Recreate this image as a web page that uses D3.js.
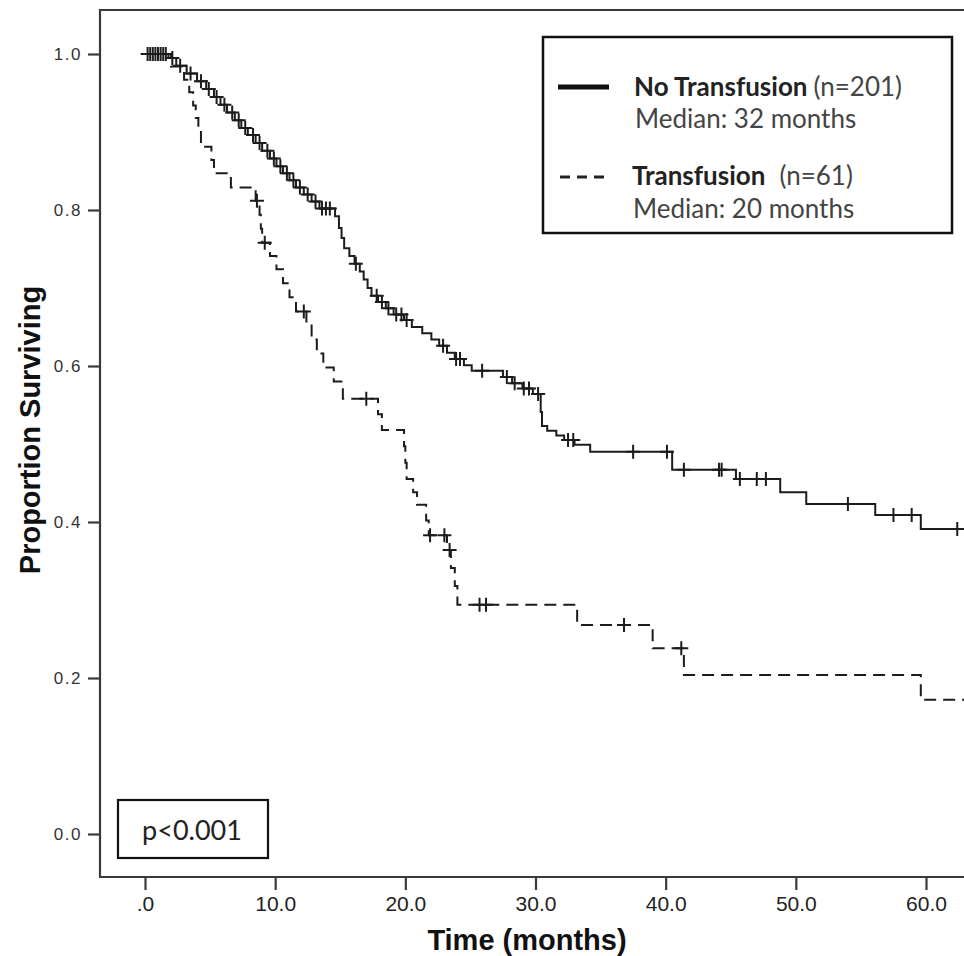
<!DOCTYPE html>
<html>
<head>
<meta charset="utf-8">
<script src="https://cdn.jsdelivr.net/npm/d3@7/dist/d3.min.js"></script>
<style>
  html, body { margin: 0; padding: 0; background: #fff; }
  svg { display: block; }
</style>
</head>
<body>
<svg id="chart" width="964" height="956"></svg>
<script>
// ---------------- DATA ----------------
const xTicks = [0, 10, 20, 30, 40, 50, 60];
const xTickLabels = [".0", "10.0", "20.0", "30.0", "40.0", "50.0", "60.0"];
const yTicks = [0, 0.2, 0.4, 0.6, 0.8, 1.0];
const yTickLabels = ["0.0", "0.2", "0.4", "0.6", "0.8", "1.0"];

// No Transfusion (n=201): step times (months) and survival after each step
const noTransTimes = [0, 1.8, 2.4, 3.2, 4.0, 4.7, 5.3, 5.8, 6.3, 6.9, 7.4, 7.9, 8.5, 9.0, 9.6, 10.1, 10.6, 11.1, 11.6, 12.2, 12.8, 13.4,
  14.6, 14.9, 15.1, 15.3, 15.7, 16.1, 16.5, 16.8, 17.1, 17.4, 17.9, 18.5, 19.1, 19.9, 20.5, 21.3, 22.0, 22.6, 23.2, 23.8, 24.5, 25.1,
  27.5, 28.2, 29.0, 29.8, 30.4, 30.5, 30.9, 31.6, 32.2, 33.0, 34.2, 40.5, 45.4, 48.8, 50.8, 56.1, 59.6];
const noTransSurv = [1.0, 0.995, 0.985, 0.975, 0.965, 0.955, 0.945, 0.935, 0.925, 0.915, 0.905, 0.896, 0.886, 0.876, 0.866, 0.856, 0.847, 0.838, 0.829, 0.820, 0.811, 0.802,
  0.792, 0.777, 0.764, 0.751, 0.741, 0.731, 0.721, 0.711, 0.700, 0.690, 0.682, 0.674, 0.666, 0.659, 0.650, 0.642, 0.634, 0.626, 0.617, 0.609, 0.601, 0.594,
  0.586, 0.578, 0.571, 0.564, 0.541, 0.523, 0.517, 0.511, 0.505, 0.499, 0.490, 0.467, 0.455, 0.438, 0.423, 0.409, 0.391];
const noTransCensored = [0.2, 0.4, 0.6, 0.8, 1.0, 1.2, 1.4, 1.6, 2.1, 2.7, 3.5, 4.3, 4.9, 5.5, 6.1, 6.7, 7.2, 7.7, 8.3, 8.8, 9.4, 9.9,
  10.4, 10.9, 11.4, 11.9, 12.5, 13.1, 13.6, 13.9, 14.2, 16.2, 17.8, 18.2, 18.7, 19.3, 19.7, 20.1, 22.9, 23.9, 24.2, 25.9,
  27.8, 28.4, 29.1, 29.5, 30.2, 32.5, 32.9, 37.5, 40.1, 41.4, 44.1, 44.3, 45.7, 47.0, 47.7, 54.0, 57.5, 58.9, 62.4];

// Transfusion (n=61)
const transTimes = [0, 2.0, 3.0, 3.4, 3.7, 3.9, 4.1, 4.3, 5.1, 5.3, 6.6, 8.5, 8.8, 8.9, 9.0, 9.6, 10.1, 10.6, 11.1, 11.6,
  12.4, 12.8, 13.2, 13.7, 14.5, 15.2, 17.9, 18.2, 19.9, 20.0, 20.1, 20.6, 20.9, 21.6, 21.8, 23.2, 23.5, 23.8, 24.0,
  33.2, 39.0, 41.4, 59.6];
const transSurv = [1.0, 0.984, 0.967, 0.951, 0.934, 0.918, 0.900, 0.881, 0.864, 0.847, 0.829, 0.812, 0.794, 0.776, 0.758, 0.741, 0.724, 0.706, 0.688, 0.670,
  0.652, 0.634, 0.616, 0.598, 0.580, 0.558, 0.538, 0.518, 0.497, 0.476, 0.455, 0.438, 0.422, 0.402, 0.383, 0.364, 0.341, 0.318, 0.294,
  0.268, 0.238, 0.204, 0.172];
const transCensored = [8.6, 9.2, 12.2, 17.0, 21.9, 23.0, 23.4, 25.7, 26.2, 36.8, 41.2];

const endTime = 63.5;

// ---------------- LAYOUT ----------------
const svg = d3.select("#chart");
const x = d3.scaleLinear().domain([0, 60]).range([145, 926]);
const y = d3.scaleLinear().domain([0, 1]).range([834, 54]);
const frameLeft = 100, frameTop = 10, frameBottom = 877, frameRight = 964;
const ink = "#1c1c1c";

// frame
svg.append("path")
  .attr("d", `M${frameRight},${frameTop} H${frameLeft} V${frameBottom} H${frameRight}`)
  .attr("fill", "none").attr("stroke", "#3a3a3a").attr("stroke-width", 2.2);

// y axis
const yAxis = d3.axisLeft(y).tickValues(yTicks).tickSize(12).tickPadding(6)
  .tickFormat((d, i) => yTickLabels[i]);
const yg = svg.append("g").attr("transform", `translate(${frameLeft},0)`).call(yAxis);
yg.select(".domain").remove();
yg.selectAll(".tick line").attr("stroke", "#3a3a3a").attr("stroke-width", 2.2);
yg.selectAll(".tick text").attr("fill", "#333")
  .style("font-family", "'Liberation Sans', Arial, sans-serif")
  .style("font-size", "17px").style("letter-spacing", "1.5px");

// x axis
const xAxis = d3.axisBottom(x).tickValues(xTicks).tickSize(13).tickPadding(6)
  .tickFormat((d, i) => xTickLabels[i]);
const xg = svg.append("g").attr("transform", `translate(0,${frameBottom})`).call(xAxis);
xg.select(".domain").remove();
xg.selectAll(".tick line").attr("stroke", "#3a3a3a").attr("stroke-width", 2.2);
xg.selectAll(".tick text").attr("fill", "#222")
  .style("font-family", "'Liberation Sans Narrow', 'Arial Narrow', sans-serif")
  .style("font-size", "21px");

// axis titles
svg.append("text").attr("x", 527).attr("y", 950).attr("text-anchor", "middle")
  .style("font-family", "'Liberation Sans Narrow', 'Arial Narrow', sans-serif")
  .style("font-weight", "bold").style("font-size", "29px").attr("fill", "#111")
  .text("Time (months)");
svg.append("text").attr("transform", "translate(40,430) rotate(-90)").attr("text-anchor", "middle")
  .style("font-family", "'Liberation Sans Narrow', 'Arial Narrow', sans-serif")
  .style("font-weight", "bold").style("font-size", "29px").attr("fill", "#111")
  .text("Proportion Surviving");

// curves
function stepPoints(times, surv) {
  const pts = times.map((t, i) => [t, surv[i]]);
  pts.push([endTime, surv[surv.length - 1]]);
  return pts;
}
function survAt(times, surv, t) {
  let v = surv[0];
  for (let i = 0; i < times.length; i++) if (times[i] <= t) v = surv[i];
  return v;
}
const line = d3.line().x(d => x(d[0])).y(d => y(d[1])).curve(d3.curveStepAfter);

svg.append("defs").append("clipPath").attr("id", "clip")
  .append("rect").attr("x", frameLeft).attr("y", frameTop).attr("width", frameRight - frameLeft).attr("height", frameBottom - frameTop);

const plot = svg.append("g").attr("clip-path", "url(#clip)");

plot.append("path").datum(stepPoints(transTimes, transSurv))
  .attr("d", line).attr("fill", "none").attr("stroke", ink)
  .attr("stroke-width", 2).attr("stroke-dasharray", "12,7");
plot.append("path").datum(stepPoints(noTransTimes, noTransSurv))
  .attr("d", line).attr("fill", "none").attr("stroke", ink).attr("stroke-width", 2);

function censorPath(t, v) {
  const cx = x(t), cy = y(v);
  return `M${cx - 7},${cy}H${cx + 7}M${cx},${cy - 7}V${cy + 7}`;
}
plot.selectAll(".cn").data(noTransCensored).enter().append("path")
  .attr("d", t => censorPath(t, survAt(noTransTimes, noTransSurv, t)))
  .attr("stroke", ink).attr("stroke-width", 2).attr("fill", "none");
plot.selectAll(".ct").data(transCensored).enter().append("path")
  .attr("d", t => censorPath(t, survAt(transTimes, transSurv, t)))
  .attr("stroke", ink).attr("stroke-width", 2).attr("fill", "none");

// legend
const lg = svg.append("g");
lg.append("rect").attr("x", 543).attr("y", 37).attr("width", 409).attr("height", 196)
  .attr("fill", "#fff").attr("stroke", "#111").attr("stroke-width", 2.5);
lg.append("line").attr("x1", 558).attr("x2", 609).attr("y1", 87).attr("y2", 87)
  .attr("stroke", "#111").attr("stroke-width", 5);
lg.append("line").attr("x1", 560).attr("x2", 604).attr("y1", 177).attr("y2", 177)
  .attr("stroke", "#222").attr("stroke-width", 3).attr("stroke-dasharray", "10,7");
const legFont = "Lato, 'Open Sans', sans-serif";
const t1 = lg.append("text").attr("x", 634).attr("y", 96).style("font-family", legFont).style("font-size", "26px").attr("fill", "#222");
t1.append("tspan").style("font-weight", "bold").text("No Transfusion");
t1.append("tspan").attr("dx", 6).attr("fill", "#444").text("(n=201)");
lg.append("text").attr("x", 635).attr("y", 128).style("font-family", legFont).style("font-size", "26px").attr("fill", "#444")
  .text("Median: 32 months");
const t2 = lg.append("text").attr("x", 632).attr("y", 185).style("font-family", legFont).style("font-size", "26px").attr("fill", "#222");
t2.append("tspan").style("font-weight", "bold").text("Transfusion");
t2.append("tspan").attr("dx", 14).attr("fill", "#444").text("(n=61)");
lg.append("text").attr("x", 633).attr("y", 218).style("font-family", legFont).style("font-size", "26px").attr("fill", "#444")
  .text("Median: 20 months");

// p-value box
svg.append("rect").attr("x", 118).attr("y", 800).attr("width", 150).attr("height", 58)
  .attr("fill", "#fff").attr("stroke", "#111").attr("stroke-width", 2.2);
svg.append("text").attr("x", 192).attr("y", 840).attr("text-anchor", "middle")
  .style("font-family", legFont).style("font-size", "27px").attr("fill", "#222").text("p<0.001");
</script>
</body>
</html>
